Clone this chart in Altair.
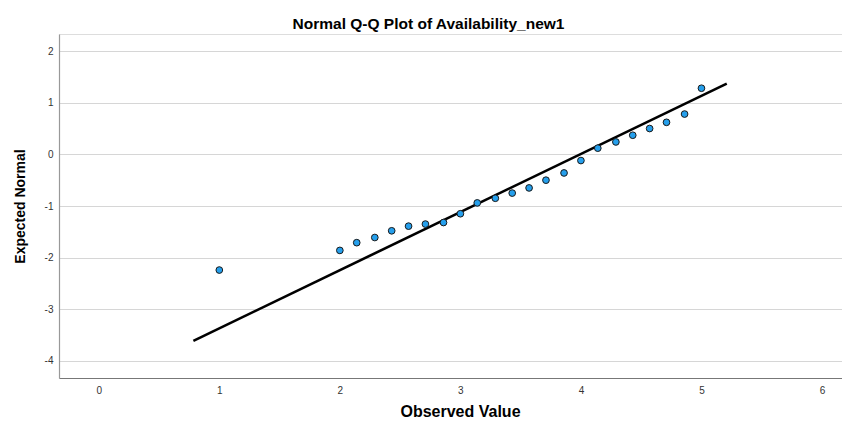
import altair as alt
import pandas as pd

# Observed values (x) and expected normal quantiles (y)
observed = [1.00, 2.00, 2.14, 2.29, 2.43, 2.57, 2.71, 2.86, 3.00, 3.14, 3.29, 3.43,
            3.57, 3.71, 3.86, 4.00, 4.14, 4.29, 4.43, 4.57, 4.71, 4.86, 5.00]
expected = [-2.24, -1.86, -1.71, -1.61, -1.48, -1.39, -1.35, -1.32, -1.15, -0.94, -0.85, -0.75,
            -0.65, -0.50, -0.36, -0.12, 0.12, 0.24, 0.37, 0.50, 0.62, 0.78, 1.28]

# Reference line endpoints
line_x = [0.785, 5.21]
line_y = [-3.61, 1.37]

x_ticks = [0, 1, 2, 3, 4, 5, 6]
y_ticks = [-4, -3, -2, -1, 0, 1, 2]

pts = pd.DataFrame({"Observed": observed, "Expected": expected})
ln = pd.DataFrame({"Observed": line_x, "Expected": line_y})

FONT = "Liberation Sans"

xs = alt.Scale(domain=[-0.33, 6.166], nice=False, zero=False)
ys = alt.Scale(domain=[-4.33, 2.33], nice=False, zero=False)

x_axis = alt.Axis(
    title="Observed Value", values=x_ticks, grid=False, ticks=False,
    labelExpr="toString(datum.value)",
    labelFontSize=10, labelColor="#333333", labelPadding=7, labelFont=FONT,
    titleFont=FONT, titleFontSize=16, titleFontWeight="bold", titleColor="#000000",
    titleX=401, titleY=33, titleBaseline="middle", titleAlign="center",
    domainColor="#777777", domainWidth=1.2,
)
y_axis = alt.Axis(
    title="Expected Normal", values=y_ticks, grid=True, gridColor="#d6d6d6", gridWidth=1,
    labelExpr="toString(datum.value)",
    ticks=False, labelFontSize=10, labelColor="#333333", labelPadding=6, labelFont=FONT,
    titleFont=FONT, titleFontSize=14, titleFontWeight="bold", titleColor="#000000",
    titleX=-39, titleY=172, titleBaseline="middle", titleAlign="center", titleAngle=270,
    domainColor="#999999", domainWidth=1.2,
)

line = alt.Chart(ln).mark_line(color="#000000", strokeWidth=2.6).encode(
    x=alt.X("Observed:Q", scale=xs, axis=x_axis),
    y=alt.Y("Expected:Q", scale=ys, axis=y_axis),
)

points = alt.Chart(pts).mark_point(
    filled=True, fill="#259fec", stroke="#1a1a1a", strokeWidth=1, size=45, opacity=1,
    fillOpacity=1,
).encode(
    x=alt.X("Observed:Q", scale=xs),
    y=alt.Y("Expected:Q", scale=ys),
)

chart = alt.layer(line, points).properties(
    width=783,
    height=344,
    title=alt.TitleParams(
        "Normal Q-Q Plot of Availability_new1", font=FONT, fontSize=15.5,
        fontWeight="bold", color="#000000", anchor="middle", dx=-22, offset=2,
    ),
    autosize=alt.AutoSizeParams(type="none"),
    padding={"left": 51, "top": 26, "right": 0, "bottom": 42},
).configure_view(stroke=None).configure(background="#ffffff")

chart.save("out.html", embed_options={"renderer": "svg", "actions": False})
